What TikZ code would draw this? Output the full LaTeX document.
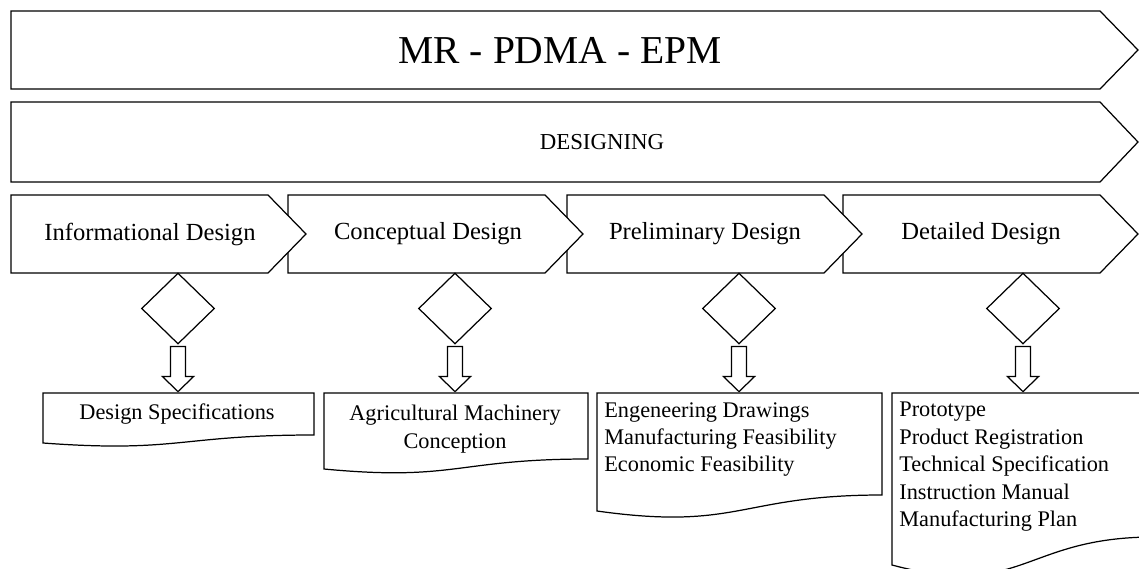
\documentclass[tikz,border=0pt]{standalone}
\usepackage{fontspec}
\setmainfont{Liberation Serif}
\usetikzlibrary{shapes.geometric}
\tikzstyle{band} = [draw, fill=white, line width=0.7pt, line join=miter]
\tikzstyle{check} = [draw, diamond, fill=white, line width=0.7pt, minimum width=1.46cm, minimum height=1.42cm, inner sep=0pt]
\tikzstyle{phasetext} = [inner sep=0pt, font=\fontsize{14}{16}\selectfont]
\tikzstyle{outtext} = [inner sep=0pt, font=\fontsize{12.7}{15.6}\selectfont]

% document outline: left, right, top, right bottom, left bottom
\newcommand{\docoutline}[5]{%
  \draw[band] (#1,#3) -- (#2,#3) -- (#2,#4)
    .. controls ({(#1+#2)/2},#4) and ({(#1+#2)/2},{#5+1.25*(#5-#4)}) .. (#1,#5) -- cycle;}
% hollow arrow below a decision node
\newcommand{\hollowdown}[1]{%
  \draw[band, shift={(#1.south)}] (-7.5,2) -- (-7.5,32) -- (-15.5,32) -- (0,47)
    -- (15.5,32) -- (7.5,32) -- (7.5,2) -- cycle;}

\begin{document}
\begin{tikzpicture}[x=0.02cm, y=-0.02cm]
\useasboundingbox (0,0) rectangle (1139,568);
\clip (0,0) rectangle (1139,568);

% top bands
\draw[band] (11,11) -- (1100,11) -- (1138,50) -- (1100,89) -- (11,89) -- cycle;
\draw[band] (11,102) -- (1100,102) -- (1138,142) -- (1100,182) -- (11,182) -- cycle;
\node[inner sep=0pt, font=\fontsize{22.5}{26}\selectfont] (title) at (560,50) {MR - PDMA - EPM};
\node[inner sep=0pt, font=\fontsize{13}{15}\selectfont] (designing) at (602,142) {DESIGNING};

% phases, drawn right to left so each point lies on top
\foreach \l in {843,567,288,11}
  \draw[band] (\l,195) -- (\l+257,195) -- (\l+295,234) -- (\l+257,273) -- (\l,273) -- cycle;
\node[phasetext] (phase1) at (150,234) {Informational Design};
\node[phasetext] (phase2) at (428,234) {Conceptual Design};
\node[phasetext] (phase3) at (705,234) {Preliminary Design};
\node[phasetext] (phase4) at (981,234) {Detailed Design};

% decisions
\node[check] (check1) at (178,308.5) {};
\node[check] (check2) at (455,308.5) {};
\node[check] (check3) at (739,308.5) {};
\node[check] (check4) at (1023,308.5) {};

% outputs
\docoutline{43}{314}{393}{435}{443}
\docoutline{324}{588}{393}{459}{469}
\docoutline{597}{882}{393}{495}{511}
\docoutline{892}{1154}{393}{537}{565}

\foreach \n in {1,...,4}
  \hollowdown{check\n};

\node[outtext] (out1) at (177,414) {Design Specifications};
\node[outtext, align=center] (out2) at (455,429) {Agricultural Machinery\\Conception};
\node[outtext, align=left, anchor=north west] (out3) at (604,402) {Engeneering Drawings\\Manufacturing Feasibility\\Economic Feasibility};
\node[outtext, align=left, anchor=north west] (out4) at (899,402) {Prototype\\Product Registration\\Technical Specification\\Instruction Manual\\Manufacturing Plan};
\end{tikzpicture}
\end{document}
